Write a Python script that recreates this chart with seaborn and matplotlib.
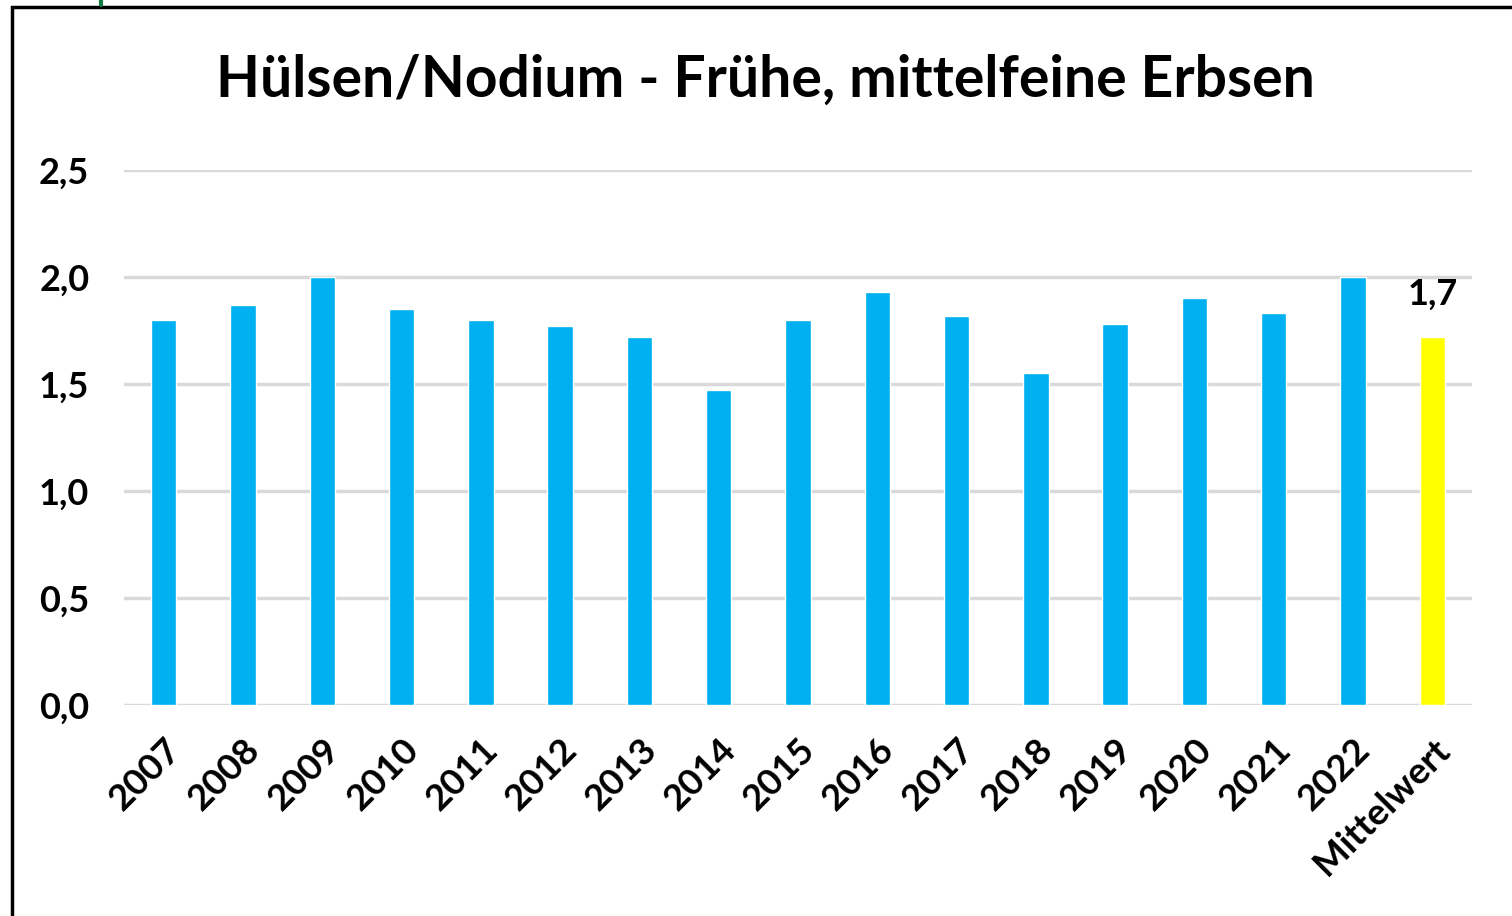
import matplotlib
matplotlib.use("Agg")
import matplotlib.pyplot as plt
import seaborn as sns
import pandas as pd
from matplotlib.patches import Rectangle
from matplotlib.lines import Line2D

categories = ["2007", "2008", "2009", "2010", "2011", "2012", "2013", "2014",
              "2015", "2016", "2017", "2018", "2019", "2020", "2021", "2022",
              "Mittelwert"]
values = [1.80, 1.87, 2.00, 1.85, 1.80, 1.77, 1.72, 1.47,
          1.80, 1.93, 1.82, 1.55, 1.78, 1.90, 1.83, 2.00, 1.72]
kinds = ["Jahr"] * 16 + ["Mittelwert"]
yticks = [0.0, 0.5, 1.0, 1.5, 2.0, 2.5]
title = "Hülsen/Nodium - Frühe, mittelfeine Erbsen"

df = pd.DataFrame({"Jahr": categories, "Wert": values, "Art": kinds})

sns.set_theme(style="white")
plt.rcParams["font.family"] = ["Lato", "DejaVu Sans"]
plt.rcParams["text.color"] = "black"
plt.rcParams["xtick.color"] = "black"
plt.rcParams["ytick.color"] = "black"

fig = plt.figure(figsize=(15.12, 9.16), dpi=100)
ax = fig.add_axes([124 / 1512, 1 - 705 / 916, (1472 - 124) / 1512, (705 - 170) / 916])

sns.barplot(data=df, x="Jahr", y="Wert", hue="Art",
            palette={"Jahr": "#00B0F0", "Mittelwert": "#FFFF00"},
            width=0.32, dodge=False, legend=False, ax=ax, saturation=1)

ax.set_ylim(0, 2.5)
ax.set_xlim(-0.5, len(categories) - 0.5)
ax.set_yticks(yticks)
ax.set_yticklabels([f"{t:.1f}".replace(".", ",") for t in yticks],
                   fontsize=26, fontweight="bold")
ax.grid(axis="y", color="#D9D9D9", linewidth=2.5)
ax.set_axisbelow(True)
for s in ax.spines.values():
    s.set_visible(False)
ax.tick_params(axis="y", length=0, pad=25)
ax.tick_params(axis="x", length=0, pad=20)
ax.set_xlabel("")
ax.set_ylabel("")
for lbl in ax.get_xticklabels():
    lbl.set_rotation(45)
    lbl.set_ha("right")
    lbl.set_rotation_mode("anchor")
    lbl.set_fontsize(26.5)
    lbl.set_fontweight("bold")

# data label for the mean
ax.text(len(categories) - 1, values[-1] + 0.12, f"{values[-1]:.1f}".replace(".", ","),
        ha="center", va="bottom", fontsize=26, fontweight="bold")

fig.text(765 / 1512, 1 - 80 / 916, title, ha="center", va="center",
         fontsize=41, fontweight="bold")

# chart frame
fig.add_artist(Rectangle((11.5 / 1512, -0.05), 1.2, 1 - 6.5 / 916 + 0.05,
                         transform=fig.transFigure, fill=False,
                         edgecolor="black", linewidth=2.5))
fig.add_artist(Line2D([101 / 1512, 101 / 1512], [1, 1 - 5 / 916],
                      transform=fig.transFigure, color="#107C41", linewidth=3))

fig.savefig("out.png", dpi=100)
